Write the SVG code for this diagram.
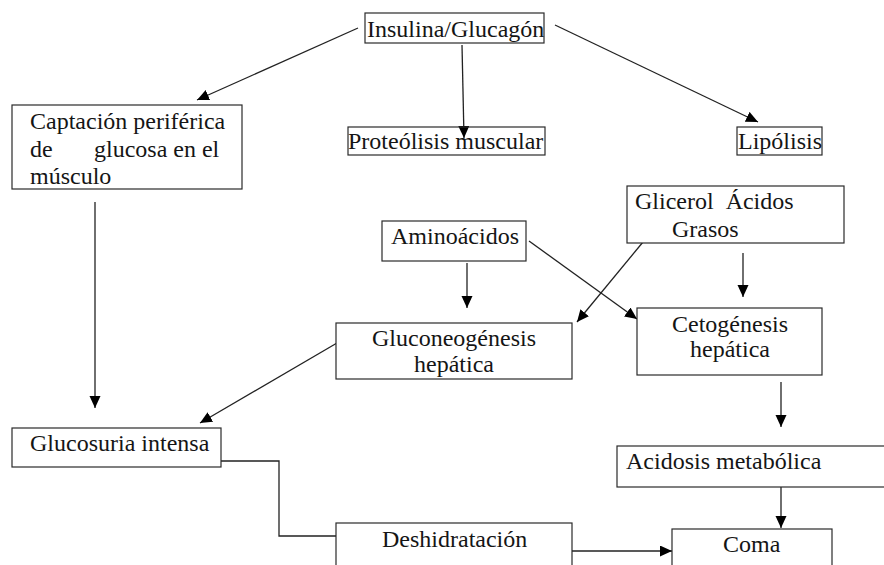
<svg xmlns="http://www.w3.org/2000/svg" width="884" height="565" viewBox="0 0 884 565">
<style>
.box{fill:#fff;stroke:#2a2a2a;stroke-width:1.2}
.t{font-family:"Liberation Serif","Times New Roman",serif;font-size:24px;fill:#151515}
.c{text-anchor:middle}
.ln{fill:none;stroke:#222;stroke-width:1.3}
</style>
<defs>
<marker id="ah" markerUnits="userSpaceOnUse" markerWidth="13" markerHeight="12" refX="12" refY="5.5" orient="auto" viewBox="0 0 13 12">
<path d="M0,0 L12,5.5 L0,11 Z" fill="#000"/>
</marker>
</defs>
<rect width="884" height="565" fill="#fff"/>
<g id="connectors">
<line class="ln" x1="358" y1="28" x2="197" y2="100" marker-end="url(#ah)"/>
<line class="ln" x1="462" y1="45" x2="464" y2="138" marker-end="url(#ah)"/>
<line class="ln" x1="555" y1="25" x2="758" y2="122" marker-end="url(#ah)"/>
<line class="ln" x1="95" y1="202" x2="95" y2="408" marker-end="url(#ah)"/>
<line class="ln" x1="467" y1="263" x2="467" y2="308" marker-end="url(#ah)"/>
<line class="ln" x1="529" y1="241" x2="637" y2="319" marker-end="url(#ah)"/>
<line class="ln" x1="643" y1="242" x2="577" y2="322" marker-end="url(#ah)"/>
<line class="ln" x1="743" y1="253" x2="743" y2="297" marker-end="url(#ah)"/>
<line class="ln" x1="337" y1="343" x2="200" y2="423" marker-end="url(#ah)"/>
<polyline class="ln" points="221,461 279,461 279,536 336,536"/>
<line class="ln" x1="572" y1="551" x2="672" y2="551" marker-end="url(#ah)"/>
<line class="ln" x1="781" y1="382" x2="781" y2="427" marker-end="url(#ah)"/>
<line class="ln" x1="781" y1="487" x2="781" y2="528" marker-end="url(#ah)"/>
</g>
<g id="insulina">
<rect class="box" x="365" y="13" width="179" height="30"/>
<text class="t" x="367" y="37">Insulina/Glucagón</text>
</g>
<g id="proteolisis">
<rect class="box" x="348" y="127" width="197" height="28" fill-opacity="0"/>
<text class="t" x="348" y="149">Proteólisis muscular</text>
</g>
<g id="lipolisis">
<rect class="box" x="737" y="127" width="85" height="28"/>
<text class="t" x="738" y="149">Lipólisis</text>
</g>
<g id="captacion">
<rect class="box" x="12" y="105" width="230" height="84"/>
<text class="t" x="30" y="129">Captación periférica</text>
<text class="t" x="30" y="157">de</text>
<text class="t" x="94" y="157">glucosa en el</text>
<text class="t" x="30" y="184">músculo</text>
</g>
<g id="glicerol">
<rect class="box" x="627" y="186" width="217" height="57"/>
<text class="t" x="635" y="209" xml:space="preserve">Glicerol  Ácidos</text>
<text class="t" x="672" y="237">Grasos</text>
</g>
<g id="aminoacidos">
<rect class="box" x="382" y="221" width="144" height="40"/>
<text class="t" x="391" y="244">Aminoácidos</text>
</g>
<g id="gluconeogenesis">
<rect class="box" x="336" y="323" width="236" height="56"/>
<text class="t c" x="454" y="346">Gluconeogénesis</text>
<text class="t c" x="454" y="372">hepática</text>
</g>
<g id="cetogenesis">
<rect class="box" x="637" y="308" width="185" height="67"/>
<text class="t c" x="730" y="332">Cetogénesis</text>
<text class="t c" x="730" y="357">hepática</text>
</g>
<g id="glucosuria">
<rect class="box" x="12" y="428" width="209" height="39"/>
<text class="t" x="30" y="451">Glucosuria intensa</text>
</g>
<g id="acidosis">
<rect class="box" x="617" y="446" width="275" height="41"/>
<text class="t" x="626" y="469">Acidosis metabólica</text>
</g>
<g id="deshidratacion">
<rect class="box" x="336" y="523" width="236" height="60"/>
<text class="t" x="382" y="547">Deshidratación</text>
</g>
<g id="coma">
<rect class="box" x="672" y="529" width="160" height="60"/>
<text class="t" x="723" y="552">Coma</text>
</g>
</svg>
